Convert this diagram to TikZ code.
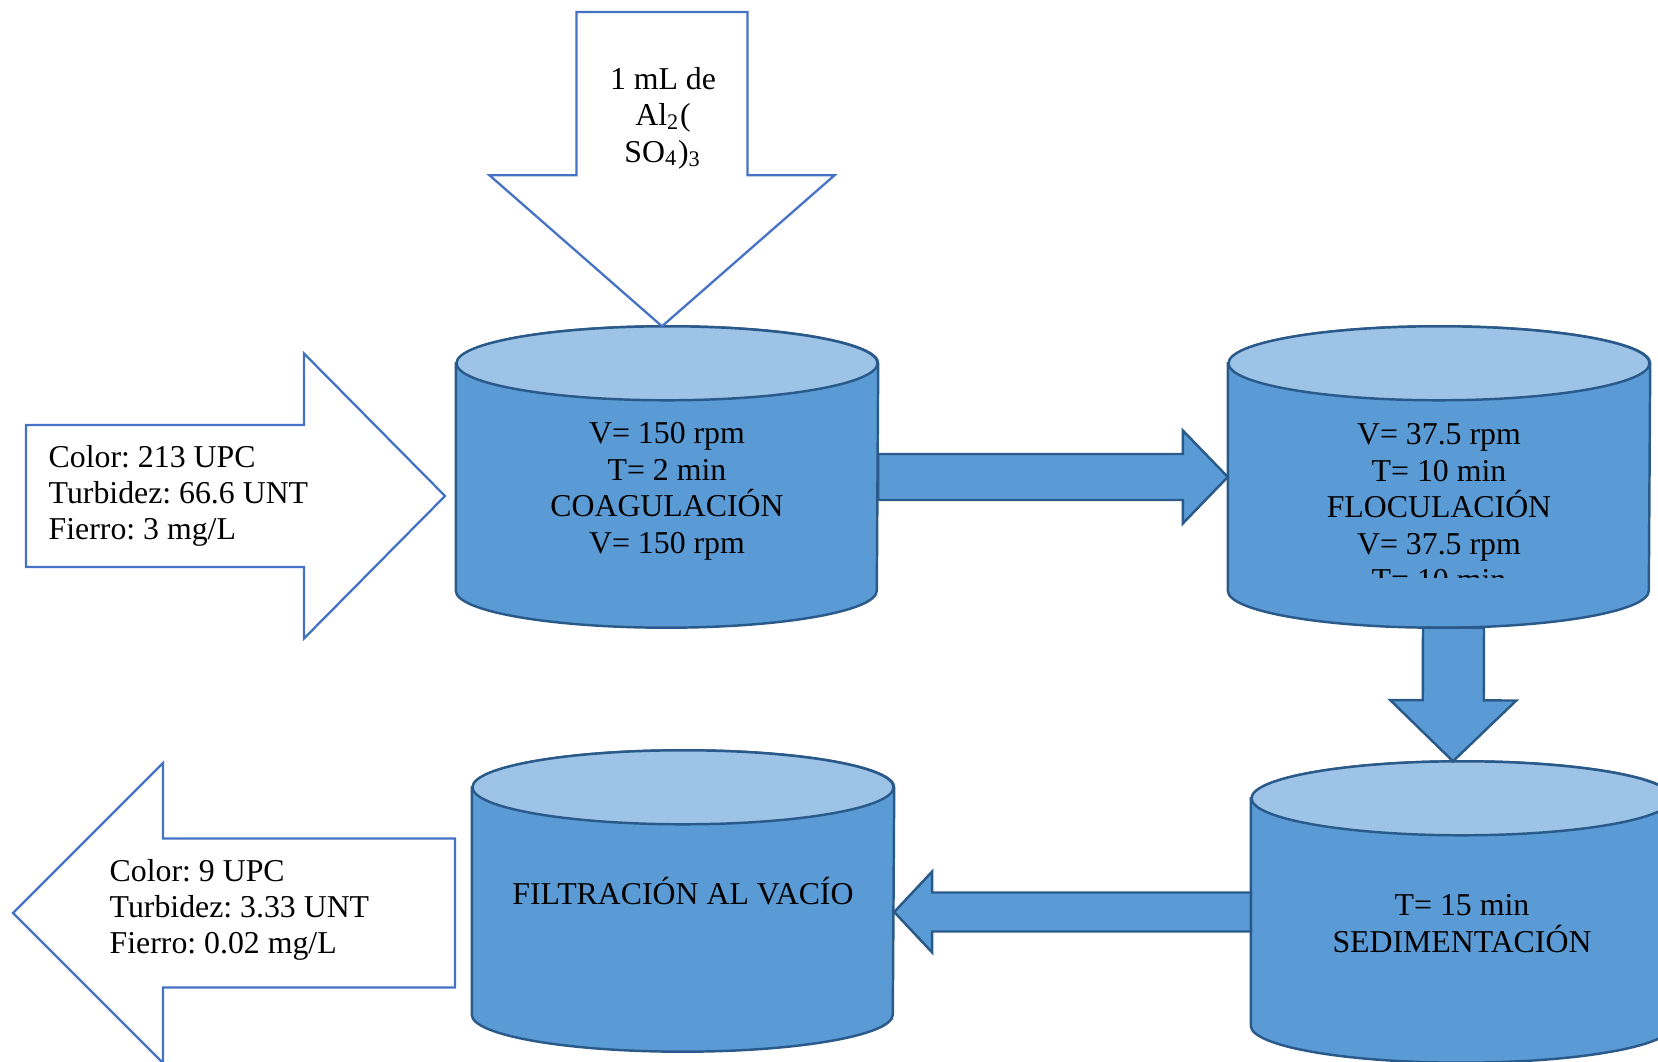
\documentclass[tikz,border=0pt]{standalone}
\usepackage{fontspec}
\setmainfont{Liberation Serif}
\frenchspacing
\usetikzlibrary{calc}
\definecolor{tankbody}{HTML}{5B9BD5}
\definecolor{tanktop}{HTML}{9DC3E6}
\definecolor{tankline}{HTML}{2A5A8A}
\definecolor{inline}{HTML}{4472C4}
\tikzset{
tank/.style={%
    rectangle, inner sep=0pt,
    minimum width=42.1mm, minimum height=30mm
},
tankside/.style={fill=tankbody, draw=tankline, line width=0.7pt},
tankend/.style={fill=tanktop, draw=tankline, line width=0.7pt},
tanktext/.style={align=center, font=\fontsize{9.05}{10.4}\selectfont},
note/.style={align=left, anchor=west, inner sep=0pt, font=\fontsize{9.05}{10.3}\selectfont},
% block arrow: shaft half width, head half width, head length
blockarrow/.style n args={3}{%
    to path={-- ($(\tikztostart)!#1!90:(\tikztotarget)$)
    -- ($(\tikztotarget)!#3!(\tikztostart)!#1!90:(\tikztotarget)$)
    -- ($(\tikztotarget)!#3!(\tikztostart)!#2!90:(\tikztotarget)$)
    -- (\tikztotarget)
    -- ($(\tikztotarget)!#3!(\tikztostart)!#2!-90:(\tikztotarget)$)
    -- ($(\tikztotarget)!#3!(\tikztostart)!#1!-90:(\tikztotarget)$)
    -- ($(\tikztostart)!#1!-90:(\tikztotarget)$) -- cycle}
},
flow/.style={draw=tankline, line width=0.7pt, fill=tankbody},
feed/.style={draw=inline, line width=0.65pt, fill=white},
}

\begin{document}
\begin{tikzpicture}[x=0.1mm, y=-0.1mm]
	\useasboundingbox (0,0) rectangle (1658,1062);

	\node[tank] at (667,477) (coag) {};
	\node[tank] at (1439,477) (floc) {};
	\node[tank] at (1462,912) (sed) {};
	\node[tank] at (683,901) (filt) {};

	% tanks
	\foreach \t in {coag, floc, sed, filt} {
		\draw[tankside] ($(\t.north west)+(0,-3.7mm)$) -- ($(\t.south west)+(0,3.7mm)$)
			arc[start angle=180, end angle=360, x radius=21.05mm, y radius=3.7mm]
			-- ($(\t.north east)+(0,-3.7mm)$)
			arc[start angle=0, end angle=180, x radius=21.05mm, y radius=3.7mm] -- cycle;
		\draw[tankend] ($(\t.north)+(0,-3.7mm)$) ellipse[x radius=21.05mm, y radius=3.7mm];
	}

	\coordinate (dosisin) at (662,12);
	\coordinate (entradain) at (26,496);
	\coordinate (entradaout) at (445,496);
	\coordinate (salidain) at (455,913);
	\coordinate (salidaout) at (13,913);

	% white arrows
	\draw[feed, blockarrow={8.55mm}{17.25mm}{15.1mm}] (dosisin) to (dosisin |- coag.north);
	\draw[feed, blockarrow={7.1mm}{14.25mm}{14.1mm}] (entradain) to (entradaout);
	\draw[feed, blockarrow={7.45mm}{15mm}{15mm}] (salidain) to (salidaout);

	% flow between tanks
	\draw[flow, blockarrow={2.3mm}{4.65mm}{4.5mm}] (coag.east) to (floc.west);
	\draw[flow, blockarrow={3.05mm}{6.3mm}{6.1mm}] ([xshift=1.45mm]floc.south) to ([xshift=-0.9mm]sed.north);
	\draw[flow, blockarrow={1.95mm}{4.05mm}{3.8mm}] (sed.west) to (filt.east |- sed.west);

	\node[tanktext] at (663,118) (dosis) {1 mL de\\Al\textsubscript{2}(\\SO\textsubscript{4})\textsubscript{3}};
	\node[note] at (48,496) (entrada) {Color: 213 UPC\\Turbidez: 66.6 UNT\\Fierro: 3 mg/L};
	\node[note] at (109,910) (salida) {Color: 9 UPC\\Turbidez: 3.33 UNT\\Fierro: 0.02 mg/L};

	\node[tanktext] at ([yshift=-1.45mm]coag.center) (coagtext) {V= 150 rpm\\T= 2 min\\COAGULACIÓN\\V= 150 rpm};
	\begin{scope}
		\clip (1228,380) rectangle (1650,578);
		\node[tanktext] at ([yshift=-3.05mm]floc.center) (floctext) {V= 37.5 rpm\\T= 10 min\\FLOCULACIÓN\\V= 37.5 rpm\\T= 10 min};
	\end{scope}
	\node[tanktext] at ([yshift=-1.15mm]sed.center) (sedtext) {T= 15 min\\SEDIMENTACIÓN};
	\node[tanktext] at ([yshift=1.0mm]filt.center) (filttext) {FILTRACIÓN AL VACÍO};
\end{tikzpicture}
\end{document}
